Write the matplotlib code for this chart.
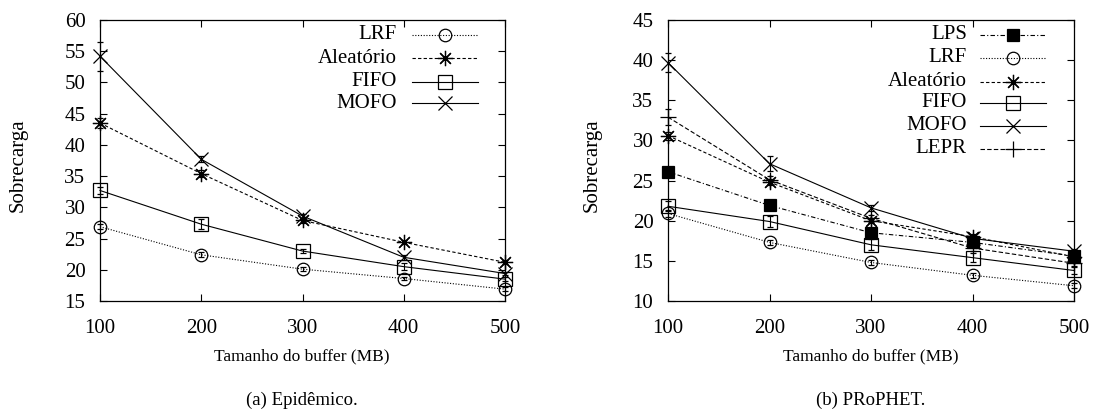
import numpy as np
import matplotlib
matplotlib.use('Agg')
import matplotlib.pyplot as plt

plt.rcParams['font.family'] = ['Liberation Serif', 'DejaVu Serif']

buffer = [100, 200, 300, 400, 500]

# (a) Epidêmico
epi_lrf = [26.9, 22.4, 20.1, 18.6, 16.9]
epi_alea = [43.5, 35.4, 27.9, 24.4, 21.2]
epi_fifo = [32.7, 27.3, 23.0, 20.5, 18.5]
epi_mofo = [54.2, 37.7, 28.6, 22.0, 19.4]
epi_lrf_err = [0.4, 0.4, 0.3, 0.3, 0.3]
epi_alea_err = [0.8, 0.5, 0.4, 0.3, 0.3]
epi_fifo_err = [0.5, 0.8, 0.3, 0.6, 0.3]
epi_mofo_err = [2.3, 0.5, 0.4, 0.4, 0.3]

# (b) PRoPHET
pro_lps = [26.1, 21.9, 18.5, 17.3, 15.6]
pro_lrf = [20.9, 17.3, 14.8, 13.2, 11.9]
pro_alea = [30.6, 24.8, 20.0, 18.0, 15.5]
pro_fifo = [21.8, 19.9, 17.0, 15.4, 13.8]
pro_mofo = [39.7, 27.1, 21.6, 17.8, 16.2]
pro_lepr = [32.9, 25.1, 20.3, 16.6, 14.7]
pro_lps_err = [0.4, 0.3, 0.3, 0.3, 0.3]
pro_lrf_err = [0.4, 0.3, 0.3, 0.3, 0.3]
pro_alea_err = [0.5, 0.4, 0.3, 0.3, 0.3]
pro_fifo_err = [0.6, 0.7, 0.7, 0.6, 0.4]
pro_mofo_err = [1.2, 0.9, 0.4, 0.3, 0.3]
pro_lepr_err = [1.0, 0.5, 0.4, 0.4, 0.3]

W, H = 1097, 418

estilos = {
    'LPS': dict(ls=(0, (4, 2, 1, 2)), marker='s', mfc='black', ms=9),
    'LRF': dict(ls=(0, (1, 1.5)), marker='o', mfc='none', ms=9),
    'Aleatório': dict(ls=(0, (3, 2)), marker=(8, 2, 0), mfc='none', ms=11),
    'FIFO': dict(ls='-', marker='s', mfc='none', ms=10),
    'MOFO': dict(ls='-', marker='x', mfc='none', ms=10),
    'LEPR': dict(ls=(0, (4, 2)), marker='+', mfc='none', ms=11),
}


def desenhar(ax, series, ylim, yticks, leg_x, leg_y):
    for nome, vals, err in series:
        st = estilos[nome]
        ax.errorbar(buffer, vals, yerr=err, color='black', mec='black',
                    lw=0.8, mew=0.9, elinewidth=0.8, capsize=2.5, capthick=0.8,
                    clip_on=False, zorder=3, **st)
    ax.set_xlim(100, 500)
    ax.set_ylim(*ylim)
    ax.set_xticks(buffer)
    ax.set_yticks(yticks)
    ax.tick_params(direction='in', top=True, right=True, length=5, width=0.8,
                   labelsize=15)
    ax.tick_params(axis='x', pad=13)
    ax.tick_params(axis='y', pad=10.5)
    for s in ax.spines.values():
        s.set_linewidth(0.9)

    # legenda estilo gnuplot: texto alinhado à direita, amostra depois
    x_txt, x0, x1 = leg_x
    for (nome, _, _), y in zip(series, leg_y):
        st = estilos[nome]
        ax.text(x_txt, y, nome, transform=ax.transAxes, ha='right', va='center', fontsize=15)
        ax.plot([x0, (x0 + x1) / 2, x1], [y, y, y], transform=ax.transAxes,
                color='black', mec='black', lw=0.8, mew=0.9, markevery=[1], **st)


fig = plt.figure(figsize=(W / 100, H / 100), dpi=100)

ax1 = fig.add_axes([100 / W, 1 - 301 / H, 405 / W, 281 / H])
desenhar(ax1, [('LRF', epi_lrf, epi_lrf_err),
               ('Aleatório', epi_alea, epi_alea_err),
               ('FIFO', epi_fifo, epi_fifo_err),
               ('MOFO', epi_mofo, epi_mofo_err)],
         (15, 60), np.arange(15, 61, 5),
         (0.733, 0.77, 0.933), [0.947, 0.863, 0.781, 0.703])

ax2 = fig.add_axes([668 / W, 1 - 301 / H, 406 / W, 281 / H])
desenhar(ax2, [('LPS', pro_lps, pro_lps_err),
               ('LRF', pro_lrf, pro_lrf_err),
               ('Aleatório', pro_alea, pro_alea_err),
               ('FIFO', pro_fifo, pro_fifo_err),
               ('MOFO', pro_mofo, pro_mofo_err),
               ('LEPR', pro_lepr, pro_lepr_err)],
         (10, 45), np.arange(10, 46, 5),
         (0.736, 0.768, 0.931), [0.947, 0.865, 0.781, 0.705, 0.623, 0.541])

# rótulos
fig.text(18 / W, 1 - 165 / H, 'Sobrecarga', rotation=90, ha='center', va='center', fontsize=15)
fig.text(592 / W, 1 - 165 / H, 'Sobrecarga', rotation=90, ha='center', va='center', fontsize=15)
fig.text(302 / W, 1 - 356 / H, 'Tamanho do buffer (MB)', ha='center', va='center', fontsize=12.5)
fig.text(871 / W, 1 - 356 / H, 'Tamanho do buffer (MB)', ha='center', va='center', fontsize=12.5)
fig.text(302 / W, 1 - 400 / H, '(a) Epidêmico.', ha='center', va='center', fontsize=13.5)
fig.text(871 / W, 1 - 400 / H, '(b) PRoPHET.', ha='center', va='center', fontsize=13.5)

fig.savefig('out.png', dpi=100)
